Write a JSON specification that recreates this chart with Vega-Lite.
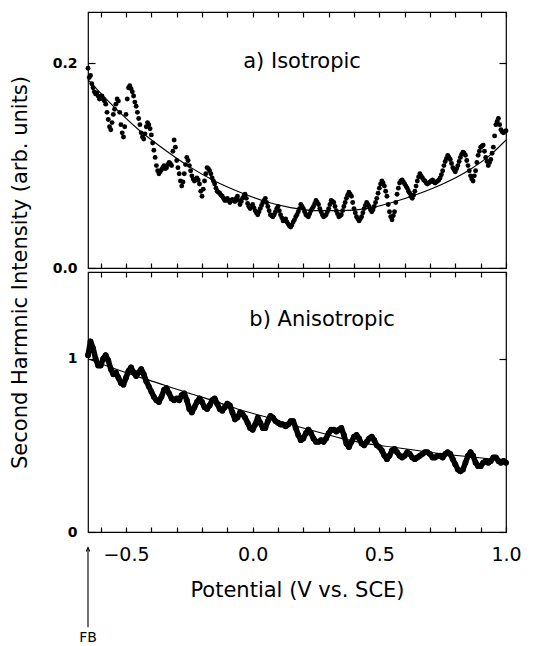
{
  "$schema": "https://vega.github.io/schema/vega-lite/v6.json",
  "padding": {"left": 8, "top": 10, "right": 5, "bottom": 5},
  "bounds": "flush",
  "spacing": 4,
  "config": {
    "font": "DejaVu Sans",
    "view": {"stroke": "black", "strokeWidth": 1.2},
    "axis": {"domain": false, "grid": false, "tickColor": "black", "labelColor": "black", "titleColor": "black", "tickWidth": 1.2}
  },
  "datasets": {
    "iso": [
      {"x":-0.65,"y":0.195},{"x":-0.64,"y":0.188},{"x":-0.63,"y":0.176},{"x":-0.62,"y":0.170},{"x":-0.61,"y":0.168},{"x":-0.60,"y":0.166},{"x":-0.59,"y":0.165},{"x":-0.58,"y":0.160},{"x":-0.57,"y":0.145},{"x":-0.56,"y":0.135},
      {"x":-0.55,"y":0.150},{"x":-0.54,"y":0.160},{"x":-0.53,"y":0.163},{"x":-0.52,"y":0.140},{"x":-0.51,"y":0.128},{"x":-0.50,"y":0.150},{"x":-0.49,"y":0.176},{"x":-0.48,"y":0.175},{"x":-0.47,"y":0.168},{"x":-0.46,"y":0.158},
      {"x":-0.45,"y":0.146},{"x":-0.44,"y":0.132},{"x":-0.43,"y":0.126},{"x":-0.42,"y":0.138},{"x":-0.41,"y":0.140},{"x":-0.40,"y":0.130},{"x":-0.39,"y":0.115},{"x":-0.38,"y":0.100},{"x":-0.37,"y":0.092},{"x":-0.36,"y":0.096},
      {"x":-0.35,"y":0.100},{"x":-0.34,"y":0.098},{"x":-0.33,"y":0.103},{"x":-0.32,"y":0.100},{"x":-0.31,"y":0.125},{"x":-0.30,"y":0.105},{"x":-0.29,"y":0.092},{"x":-0.28,"y":0.080},{"x":-0.27,"y":0.092},{"x":-0.26,"y":0.108},
      {"x":-0.25,"y":0.100},{"x":-0.24,"y":0.090},{"x":-0.23,"y":0.085},{"x":-0.22,"y":0.088},{"x":-0.21,"y":0.082},{"x":-0.20,"y":0.070},{"x":-0.19,"y":0.085},{"x":-0.18,"y":0.098},{"x":-0.17,"y":0.095},{"x":-0.16,"y":0.088},
      {"x":-0.15,"y":0.082},{"x":-0.14,"y":0.075},{"x":-0.13,"y":0.073},{"x":-0.12,"y":0.070},{"x":-0.11,"y":0.066},{"x":-0.10,"y":0.068},{"x":-0.09,"y":0.064},{"x":-0.08,"y":0.067},{"x":-0.07,"y":0.065},{"x":-0.06,"y":0.070},
      {"x":-0.05,"y":0.062},{"x":-0.04,"y":0.068},{"x":-0.03,"y":0.072},{"x":-0.02,"y":0.063},{"x":-0.01,"y":0.058},{"x":0.00,"y":0.062},{"x":0.01,"y":0.056},{"x":0.02,"y":0.052},{"x":0.03,"y":0.058},{"x":0.04,"y":0.064},
      {"x":0.05,"y":0.068},{"x":0.06,"y":0.060},{"x":0.07,"y":0.052},{"x":0.08,"y":0.050},{"x":0.09,"y":0.055},{"x":0.10,"y":0.060},{"x":0.11,"y":0.052},{"x":0.12,"y":0.046},{"x":0.13,"y":0.048},{"x":0.14,"y":0.043},
      {"x":0.15,"y":0.040},{"x":0.16,"y":0.045},{"x":0.17,"y":0.050},{"x":0.18,"y":0.055},{"x":0.19,"y":0.062},{"x":0.20,"y":0.058},{"x":0.21,"y":0.052},{"x":0.22,"y":0.050},{"x":0.23,"y":0.056},{"x":0.24,"y":0.060},
      {"x":0.25,"y":0.066},{"x":0.26,"y":0.062},{"x":0.27,"y":0.055},{"x":0.28,"y":0.050},{"x":0.29,"y":0.052},{"x":0.30,"y":0.058},{"x":0.31,"y":0.066},{"x":0.32,"y":0.064},{"x":0.33,"y":0.056},{"x":0.34,"y":0.050},
      {"x":0.35,"y":0.052},{"x":0.36,"y":0.060},{"x":0.37,"y":0.068},{"x":0.38,"y":0.074},{"x":0.39,"y":0.070},{"x":0.40,"y":0.058},{"x":0.41,"y":0.050},{"x":0.42,"y":0.046},{"x":0.43,"y":0.050},{"x":0.44,"y":0.058},
      {"x":0.45,"y":0.064},{"x":0.46,"y":0.060},{"x":0.47,"y":0.055},{"x":0.48,"y":0.060},{"x":0.49,"y":0.068},{"x":0.50,"y":0.078},{"x":0.51,"y":0.085},{"x":0.52,"y":0.080},{"x":0.53,"y":0.070},{"x":0.54,"y":0.055},
      {"x":0.55,"y":0.047},{"x":0.56,"y":0.055},{"x":0.57,"y":0.072},{"x":0.58,"y":0.083},{"x":0.59,"y":0.086},{"x":0.60,"y":0.082},{"x":0.61,"y":0.078},{"x":0.62,"y":0.073},{"x":0.63,"y":0.068},{"x":0.64,"y":0.075},
      {"x":0.65,"y":0.085},{"x":0.66,"y":0.092},{"x":0.67,"y":0.088},{"x":0.68,"y":0.085},{"x":0.69,"y":0.082},{"x":0.70,"y":0.084},{"x":0.71,"y":0.086},{"x":0.72,"y":0.083},{"x":0.73,"y":0.085},{"x":0.74,"y":0.088},
      {"x":0.75,"y":0.095},{"x":0.76,"y":0.104},{"x":0.77,"y":0.110},{"x":0.78,"y":0.106},{"x":0.79,"y":0.098},{"x":0.80,"y":0.094},{"x":0.81,"y":0.100},{"x":0.82,"y":0.108},{"x":0.83,"y":0.113},{"x":0.84,"y":0.110},
      {"x":0.85,"y":0.100},{"x":0.86,"y":0.090},{"x":0.87,"y":0.085},{"x":0.88,"y":0.095},{"x":0.89,"y":0.110},{"x":0.90,"y":0.118},{"x":0.91,"y":0.120},{"x":0.92,"y":0.108},{"x":0.93,"y":0.100},{"x":0.94,"y":0.106},
      {"x":0.95,"y":0.118},{"x":0.96,"y":0.140},{"x":0.97,"y":0.146},{"x":0.98,"y":0.135},{"x":0.99,"y":0.132},{"x":1.00,"y":0.134},
      {"x":-0.645,"y":0.186},{"x":-0.635,"y":0.180},{"x":-0.625,"y":0.172},{"x":-0.615,"y":0.171},{"x":-0.605,"y":0.165},{"x":-0.595,"y":0.168},{"x":-0.585,"y":0.163},{"x":-0.575,"y":0.152},{"x":-0.565,"y":0.138},{"x":-0.555,"y":0.142},
      {"x":-0.545,"y":0.155},{"x":-0.535,"y":0.165},{"x":-0.525,"y":0.152},{"x":-0.515,"y":0.132},{"x":-0.505,"y":0.138},{"x":-0.495,"y":0.165},{"x":-0.485,"y":0.178},{"x":-0.475,"y":0.172},{"x":-0.465,"y":0.162},{"x":-0.455,"y":0.152},
      {"x":-0.445,"y":0.140},{"x":-0.435,"y":0.128},{"x":-0.425,"y":0.131},{"x":-0.415,"y":0.142},{"x":-0.405,"y":0.136},{"x":-0.395,"y":0.122},{"x":-0.385,"y":0.108},{"x":-0.375,"y":0.095},{"x":-0.365,"y":0.094},{"x":-0.355,"y":0.098},
      {"x":-0.345,"y":0.097},{"x":-0.335,"y":0.101},{"x":-0.325,"y":0.102},{"x":-0.315,"y":0.114},{"x":-0.305,"y":0.118},{"x":-0.295,"y":0.098},{"x":-0.285,"y":0.085},{"x":-0.275,"y":0.084},{"x":-0.265,"y":0.101},{"x":-0.255,"y":0.105},
      {"x":-0.245,"y":0.095},{"x":-0.235,"y":0.087},{"x":-0.225,"y":0.086},{"x":-0.215,"y":0.086},{"x":-0.205,"y":0.075},{"x":-0.195,"y":0.077},{"x":-0.185,"y":0.092},{"x":-0.175,"y":0.097},{"x":-0.165,"y":0.092},{"x":-0.155,"y":0.085},
      {"x":-0.145,"y":0.078},{"x":-0.135,"y":0.074},{"x":-0.125,"y":0.071},{"x":-0.115,"y":0.068},{"x":-0.105,"y":0.066},{"x":-0.095,"y":0.066},{"x":-0.085,"y":0.066},{"x":-0.075,"y":0.066},{"x":-0.065,"y":0.068},{"x":-0.055,"y":0.066},
      {"x":-0.045,"y":0.065},{"x":-0.035,"y":0.070},{"x":-0.025,"y":0.068},{"x":-0.015,"y":0.060},{"x":-0.005,"y":0.060},{"x":0.005,"y":0.059},{"x":0.015,"y":0.054},{"x":0.025,"y":0.055},{"x":0.035,"y":0.061},{"x":0.045,"y":0.066},
      {"x":0.055,"y":0.064},{"x":0.065,"y":0.056},{"x":0.075,"y":0.051},{"x":0.085,"y":0.052},{"x":0.095,"y":0.058},{"x":0.105,"y":0.056},{"x":0.115,"y":0.049},{"x":0.125,"y":0.047},{"x":0.135,"y":0.045},{"x":0.145,"y":0.041},
      {"x":0.155,"y":0.042},{"x":0.165,"y":0.047},{"x":0.175,"y":0.052},{"x":0.185,"y":0.058},{"x":0.195,"y":0.060},{"x":0.205,"y":0.055},{"x":0.215,"y":0.051},{"x":0.225,"y":0.053},{"x":0.235,"y":0.058},{"x":0.245,"y":0.063},
      {"x":0.255,"y":0.064},{"x":0.265,"y":0.058},{"x":0.275,"y":0.052},{"x":0.285,"y":0.051},{"x":0.295,"y":0.055},{"x":0.305,"y":0.062},{"x":0.315,"y":0.065},{"x":0.325,"y":0.060},{"x":0.335,"y":0.053},{"x":0.345,"y":0.051},
      {"x":0.355,"y":0.056},{"x":0.365,"y":0.064},{"x":0.375,"y":0.071},{"x":0.385,"y":0.072},{"x":0.395,"y":0.064},{"x":0.405,"y":0.054},{"x":0.415,"y":0.048},{"x":0.425,"y":0.048},{"x":0.435,"y":0.054},{"x":0.445,"y":0.061},
      {"x":0.455,"y":0.062},{"x":0.465,"y":0.057},{"x":0.475,"y":0.057},{"x":0.485,"y":0.064},{"x":0.495,"y":0.073},{"x":0.505,"y":0.082},{"x":0.515,"y":0.083},{"x":0.525,"y":0.075},{"x":0.535,"y":0.062},{"x":0.545,"y":0.050},
      {"x":0.555,"y":0.051},{"x":0.565,"y":0.064},{"x":0.575,"y":0.078},{"x":0.585,"y":0.085},{"x":0.595,"y":0.084},{"x":0.605,"y":0.080},{"x":0.615,"y":0.075},{"x":0.625,"y":0.070},{"x":0.635,"y":0.071},{"x":0.645,"y":0.080},
      {"x":0.655,"y":0.089},{"x":0.665,"y":0.090},{"x":0.675,"y":0.086},{"x":0.685,"y":0.083},{"x":0.695,"y":0.083},{"x":0.705,"y":0.085},{"x":0.715,"y":0.084},{"x":0.725,"y":0.084},{"x":0.735,"y":0.086},{"x":0.745,"y":0.091},
      {"x":0.755,"y":0.100},{"x":0.765,"y":0.107},{"x":0.775,"y":0.108},{"x":0.785,"y":0.102},{"x":0.795,"y":0.096},{"x":0.805,"y":0.097},{"x":0.815,"y":0.104},{"x":0.825,"y":0.111},{"x":0.835,"y":0.112},{"x":0.845,"y":0.105},
      {"x":0.855,"y":0.095},{"x":0.865,"y":0.087},{"x":0.875,"y":0.090},{"x":0.885,"y":0.103},{"x":0.895,"y":0.114},{"x":0.905,"y":0.119},{"x":0.915,"y":0.114},{"x":0.925,"y":0.104},{"x":0.935,"y":0.103},{"x":0.945,"y":0.112},
      {"x":0.955,"y":0.129},{"x":0.965,"y":0.143},{"x":0.975,"y":0.140},{"x":0.985,"y":0.133},{"x":0.995,"y":0.133}
    ],
    "isofit": [
      {"x":-0.65,"y":0.184},{"x":-0.55,"y":0.158},{"x":-0.45,"y":0.135},{"x":-0.35,"y":0.116},{"x":-0.25,"y":0.099},{"x":-0.15,"y":0.085},{"x":-0.05,"y":0.074},{"x":0.05,"y":0.065},{"x":0.15,"y":0.059},
      {"x":0.25,"y":0.056},{"x":0.35,"y":0.056},{"x":0.45,"y":0.058},{"x":0.55,"y":0.064},{"x":0.65,"y":0.072},{"x":0.75,"y":0.082},{"x":0.85,"y":0.095},{"x":0.95,"y":0.113},{"x":1.00,"y":0.125}
    ],
    "aniso": [
      {"x":-0.65,"y":1.02},{"x":-0.64,"y":1.10},{"x":-0.63,"y":1.06},{"x":-0.62,"y":1.00},{"x":-0.61,"y":0.96},{"x":-0.60,"y":0.96},{"x":-0.59,"y":1.00},{"x":-0.58,"y":1.02},{"x":-0.57,"y":0.99},{"x":-0.56,"y":0.94},
      {"x":-0.55,"y":0.91},{"x":-0.54,"y":0.92},{"x":-0.53,"y":0.89},{"x":-0.52,"y":0.86},{"x":-0.51,"y":0.85},{"x":-0.50,"y":0.89},{"x":-0.49,"y":0.93},{"x":-0.48,"y":0.95},{"x":-0.47,"y":0.92},{"x":-0.46,"y":0.90},
      {"x":-0.45,"y":0.92},{"x":-0.44,"y":0.94},{"x":-0.43,"y":0.91},{"x":-0.42,"y":0.87},{"x":-0.41,"y":0.84},{"x":-0.40,"y":0.81},{"x":-0.39,"y":0.78},{"x":-0.38,"y":0.76},{"x":-0.37,"y":0.75},{"x":-0.36,"y":0.78},
      {"x":-0.35,"y":0.82},{"x":-0.34,"y":0.83},{"x":-0.33,"y":0.80},{"x":-0.32,"y":0.77},{"x":-0.31,"y":0.76},{"x":-0.30,"y":0.77},{"x":-0.29,"y":0.76},{"x":-0.28,"y":0.79},{"x":-0.27,"y":0.80},{"x":-0.26,"y":0.76},
      {"x":-0.25,"y":0.71},{"x":-0.24,"y":0.69},{"x":-0.23,"y":0.72},{"x":-0.22,"y":0.75},{"x":-0.21,"y":0.77},{"x":-0.20,"y":0.75},{"x":-0.19,"y":0.72},{"x":-0.18,"y":0.71},{"x":-0.17,"y":0.73},{"x":-0.16,"y":0.76},
      {"x":-0.15,"y":0.77},{"x":-0.14,"y":0.74},{"x":-0.13,"y":0.71},{"x":-0.12,"y":0.70},{"x":-0.11,"y":0.72},{"x":-0.10,"y":0.74},{"x":-0.09,"y":0.73},{"x":-0.08,"y":0.69},{"x":-0.07,"y":0.65},{"x":-0.06,"y":0.66},
      {"x":-0.05,"y":0.69},{"x":-0.04,"y":0.68},{"x":-0.03,"y":0.66},{"x":-0.02,"y":0.63},{"x":-0.01,"y":0.60},{"x":0.00,"y":0.59},{"x":0.01,"y":0.62},{"x":0.02,"y":0.66},{"x":0.03,"y":0.63},{"x":0.04,"y":0.60},
      {"x":0.05,"y":0.60},{"x":0.06,"y":0.64},{"x":0.07,"y":0.67},{"x":0.08,"y":0.66},{"x":0.09,"y":0.64},{"x":0.10,"y":0.63},{"x":0.11,"y":0.62},{"x":0.12,"y":0.62},{"x":0.13,"y":0.61},{"x":0.14,"y":0.62},
      {"x":0.15,"y":0.64},{"x":0.16,"y":0.64},{"x":0.17,"y":0.60},{"x":0.18,"y":0.56},{"x":0.19,"y":0.53},{"x":0.20,"y":0.54},{"x":0.21,"y":0.57},{"x":0.22,"y":0.59},{"x":0.23,"y":0.57},{"x":0.24,"y":0.54},
      {"x":0.25,"y":0.52},{"x":0.26,"y":0.52},{"x":0.27,"y":0.53},{"x":0.28,"y":0.52},{"x":0.29,"y":0.54},{"x":0.30,"y":0.57},{"x":0.31,"y":0.59},{"x":0.32,"y":0.59},{"x":0.33,"y":0.58},{"x":0.34,"y":0.59},
      {"x":0.35,"y":0.60},{"x":0.36,"y":0.56},{"x":0.37,"y":0.51},{"x":0.38,"y":0.49},{"x":0.39,"y":0.52},{"x":0.40,"y":0.55},{"x":0.41,"y":0.56},{"x":0.42,"y":0.54},{"x":0.43,"y":0.51},{"x":0.44,"y":0.50},
      {"x":0.45,"y":0.52},{"x":0.46,"y":0.54},{"x":0.47,"y":0.55},{"x":0.48,"y":0.53},{"x":0.49,"y":0.50},{"x":0.50,"y":0.49},{"x":0.51,"y":0.47},{"x":0.52,"y":0.44},{"x":0.53,"y":0.42},{"x":0.54,"y":0.44},
      {"x":0.55,"y":0.47},{"x":0.56,"y":0.48},{"x":0.57,"y":0.46},{"x":0.58,"y":0.44},{"x":0.59,"y":0.43},{"x":0.60,"y":0.44},{"x":0.61,"y":0.46},{"x":0.62,"y":0.45},{"x":0.63,"y":0.43},{"x":0.64,"y":0.42},
      {"x":0.65,"y":0.43},{"x":0.66,"y":0.44},{"x":0.67,"y":0.45},{"x":0.68,"y":0.46},{"x":0.69,"y":0.46},{"x":0.70,"y":0.45},{"x":0.71,"y":0.43},{"x":0.72,"y":0.43},{"x":0.73,"y":0.44},{"x":0.74,"y":0.44},
      {"x":0.75,"y":0.43},{"x":0.76,"y":0.45},{"x":0.77,"y":0.46},{"x":0.78,"y":0.45},{"x":0.79,"y":0.42},{"x":0.80,"y":0.39},{"x":0.81,"y":0.36},{"x":0.82,"y":0.35},{"x":0.83,"y":0.36},{"x":0.84,"y":0.40},
      {"x":0.85,"y":0.44},{"x":0.86,"y":0.46},{"x":0.87,"y":0.44},{"x":0.88,"y":0.40},{"x":0.89,"y":0.38},{"x":0.90,"y":0.38},{"x":0.91,"y":0.40},{"x":0.92,"y":0.41},{"x":0.93,"y":0.40},{"x":0.94,"y":0.41},
      {"x":0.95,"y":0.43},{"x":0.96,"y":0.43},{"x":0.97,"y":0.41},{"x":0.98,"y":0.40},{"x":0.99,"y":0.41},{"x":1.00,"y":0.40}
    ],
    "anisofit": [
      {"x":-0.65,"y":1.00},{"x":-0.55,"y":0.945},{"x":-0.45,"y":0.895},{"x":-0.35,"y":0.848},{"x":-0.25,"y":0.800},{"x":-0.15,"y":0.755},{"x":-0.05,"y":0.705},{"x":0.05,"y":0.665},{"x":0.15,"y":0.62},
      {"x":0.25,"y":0.58},{"x":0.35,"y":0.54},{"x":0.45,"y":0.51},{"x":0.55,"y":0.49},{"x":0.65,"y":0.47},{"x":0.75,"y":0.45},{"x":0.85,"y":0.435},{"x":0.95,"y":0.42},{"x":1.00,"y":0.41}
    ],
    "labels": [
      {"panel":"a","x":0.195,"y":0.201,"label":"a) Isotropic"},
      {"panel":"b","x":0.274,"y":1.223,"label":"b) Anisotropic"}
    ],
    "fb": [
      {"x":-0.65,"y1":-0.09,"y2":-0.55,"label":"FB","ty":-0.61}
    ]
  },
  "vconcat": [
    {
      "width": 418,
      "height": 256,
      "layer": [
        {
          "data": {"name": "iso"},
          "mark": {"type": "point", "filled": true, "size": 24, "color": "black", "opacity": 1},
          "encoding": {
            "x": {"field": "x", "type": "quantitative",
              "scale": {"domain": [-0.65, 1.0], "nice": false, "zero": false},
              "axis": {"orient": "bottom", "title": null, "labels": false, "tickSize": -5,
                "values": [-0.6,-0.5,-0.4,-0.3,-0.2,-0.1,0,0.1,0.2,0.3,0.4,0.5,0.6,0.7,0.8,0.9,1.0],
                "encode": {"ticks": {"update": {"y2": {"signal": "abs(datum.value*2 - round(datum.value*2)) < 0.001 ? -9 : -5"}}}}}},
            "y": {"field": "y", "type": "quantitative",
              "scale": {"domain": [0, 0.25], "nice": false},
              "axis": {"orient": "left", "values": [0, 0.2], "format": ".1f", "tickSize": -7,
                "labelFontSize": 14, "labelFontWeight": "bold", "labelPadding": 18,
                "title": "Second Harmnic Intensity (arb. units)", "titleFontSize": 21, "titleFontWeight": "normal",
                "titleAngle": -90, "titleX": -68, "titleY": 260, "titleBaseline": "middle", "titleAlign": "center"}}
          }
        },
        {
          "data": {"name": "isofit"},
          "mark": {"type": "line", "color": "black", "strokeWidth": 1.1, "interpolate": "monotone"},
          "encoding": {
            "x": {"field": "x", "type": "quantitative",
              "axis": {"orient": "top", "title": null, "labels": false, "tickSize": -5,
                "values": [-0.6,-0.5,-0.4,-0.3,-0.2,-0.1,0,0.1,0.2,0.3,0.4,0.5,0.6,0.7,0.8,0.9,1.0],
                "encode": {"ticks": {"update": {"y2": {"signal": "abs(datum.value*2 - round(datum.value*2)) < 0.001 ? 9 : 5"}}}}}},
            "y": {"field": "y", "type": "quantitative",
              "axis": {"orient": "right", "title": null, "labels": false, "values": [0, 0.2], "tickSize": -7}}
          }
        },
        {
          "data": {"name": "labels"},
          "transform": [{"filter": "datum.panel == 'a'"}],
          "mark": {"type": "text", "fontSize": 21, "align": "center", "baseline": "middle", "color": "black"},
          "encoding": {
            "x": {"field": "x", "type": "quantitative", "axis": null},
            "y": {"field": "y", "type": "quantitative", "axis": null},
            "text": {"field": "label"}
          }
        }
      ]
    },
    {
      "width": 418,
      "height": 260,
      "layer": [
        {
          "data": {"name": "aniso"},
          "mark": {"type": "line", "color": "black", "strokeWidth": 5.5, "strokeJoin": "round", "strokeCap": "round"},
          "encoding": {
            "x": {"field": "x", "type": "quantitative",
              "scale": {"domain": [-0.65, 1.0], "nice": false, "zero": false},
              "axis": {"orient": "bottom", "title": "Potential (V vs. SCE)", "titleFontSize": 21, "titleFontWeight": "normal",
                "titleY": 58, "titleBaseline": "middle",
                "format": ".1f", "labelFontSize": 19, "labelPadding": 18, "labelFlush": false, "labelOverlap": false,
                "labelExpr": "abs(datum.value*2 - round(datum.value*2)) < 0.001 ? datum.label : ''",
                "tickSize": -5,
                "values": [-0.6,-0.5,-0.4,-0.3,-0.2,-0.1,0,0.1,0.2,0.3,0.4,0.5,0.6,0.7,0.8,0.9,1.0],
                "encode": {"ticks": {"update": {"y2": {"signal": "abs(datum.value*2 - round(datum.value*2)) < 0.001 ? -9 : -5"}}}}}},
            "y": {"field": "y", "type": "quantitative",
              "scale": {"domain": [0, 1.5], "nice": false},
              "axis": {"orient": "left", "values": [0, 1], "format": "d", "tickSize": -7,
                "labelFontSize": 14, "labelFontWeight": "bold", "labelPadding": 18, "title": null}}
          }
        },
        {
          "data": {"name": "aniso"},
          "mark": {"type": "point", "filled": true, "size": 34, "color": "black", "opacity": 1},
          "encoding": {
            "x": {"field": "x", "type": "quantitative",
              "axis": {"orient": "top", "title": null, "labels": false, "tickSize": -5,
                "values": [-0.6,-0.5,-0.4,-0.3,-0.2,-0.1,0,0.1,0.2,0.3,0.4,0.5,0.6,0.7,0.8,0.9,1.0],
                "encode": {"ticks": {"update": {"y2": {"signal": "abs(datum.value*2 - round(datum.value*2)) < 0.001 ? 9 : 5"}}}}}},
            "y": {"field": "y", "type": "quantitative",
              "axis": {"orient": "right", "title": null, "labels": false, "values": [0, 1], "tickSize": -7}}
          }
        },
        {
          "data": {"name": "anisofit"},
          "mark": {"type": "line", "color": "black", "strokeWidth": 1.1, "interpolate": "monotone"},
          "encoding": {
            "x": {"field": "x", "type": "quantitative", "axis": null},
            "y": {"field": "y", "type": "quantitative", "axis": null}
          }
        },
        {
          "data": {"name": "labels"},
          "transform": [{"filter": "datum.panel == 'b'"}],
          "mark": {"type": "text", "fontSize": 21, "align": "center", "baseline": "middle", "color": "black"},
          "encoding": {
            "x": {"field": "x", "type": "quantitative", "axis": null},
            "y": {"field": "y", "type": "quantitative", "axis": null},
            "text": {"field": "label"}
          }
        },
        {
          "data": {"name": "fb"},
          "mark": {"type": "rule", "color": "black", "strokeWidth": 1.1},
          "encoding": {
            "x": {"field": "x", "type": "quantitative", "axis": null},
            "y": {"field": "y1", "type": "quantitative", "axis": null},
            "y2": {"field": "y2"}
          }
        },
        {
          "data": {"name": "fb"},
          "mark": {"type": "point", "shape": "M -0.45 1 L 0 0 L 0.45 1", "filled": false, "size": 60, "color": "black", "strokeWidth": 1.1, "opacity": 1},
          "encoding": {
            "x": {"field": "x", "type": "quantitative", "axis": null},
            "y": {"field": "y1", "type": "quantitative", "axis": null}
          }
        },
        {
          "data": {"name": "fb"},
          "mark": {"type": "text", "fontSize": 14, "align": "center", "baseline": "middle", "color": "black"},
          "encoding": {
            "x": {"field": "x", "type": "quantitative", "axis": null},
            "y": {"field": "ty", "type": "quantitative", "axis": null},
            "text": {"field": "label"}
          }
        }
      ]
    }
  ]
}
